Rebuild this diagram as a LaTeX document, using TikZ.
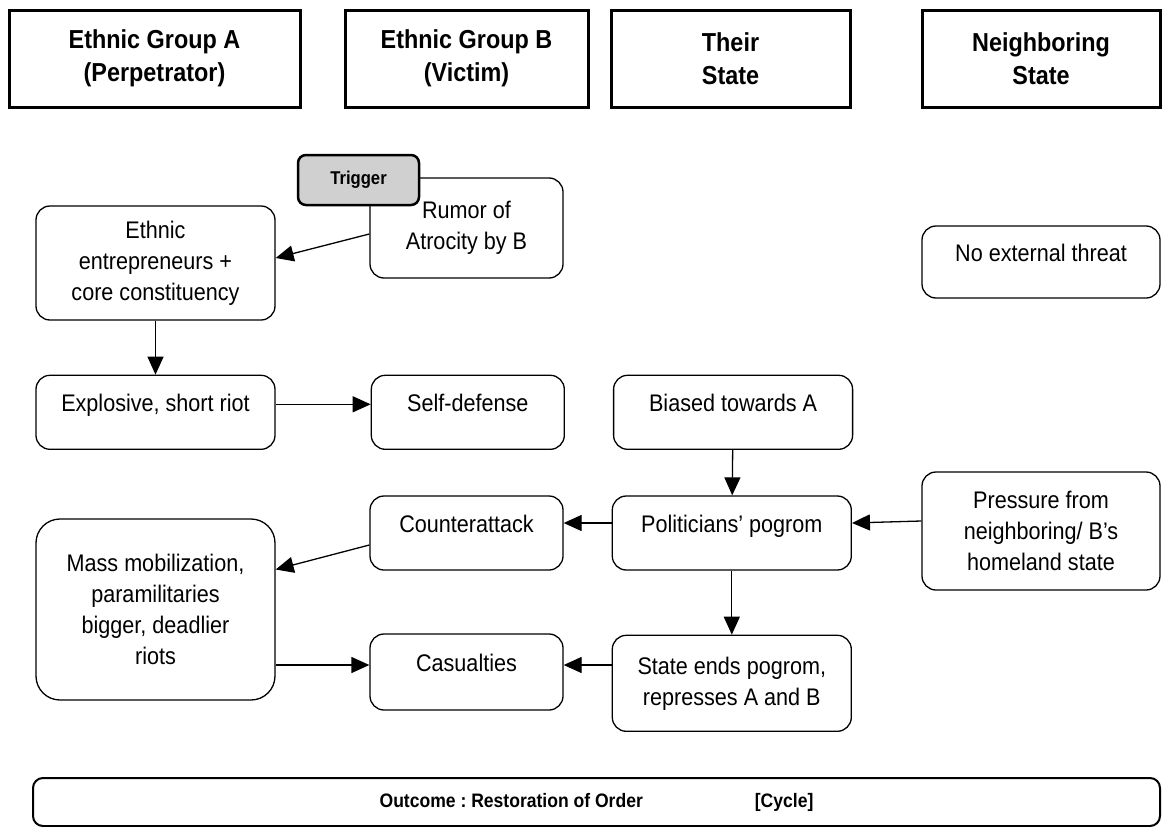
\documentclass[tikz,border=0pt]{standalone}
\usepackage{fontspec}
\setmainfont{Liberation Sans}[FakeStretch=0.9]
\usetikzlibrary{arrows.meta,positioning}
\definecolor{trigGray}{HTML}{D0D0D0}

\begin{document}
\begin{tikzpicture}[
x=1pt, y=-1pt,
every node/.style={font=\fontsize{24}{31}\selectfont},
head/.style={draw, line width=3pt, align=center, inner sep=0pt, minimum height=97pt, font=\fontsize{26}{33}\selectfont\bfseries},
box/.style={draw, fill=white, rounded corners=14pt, line width=1.3pt, align=center, inner sep=0pt, minimum width=239pt, minimum height=74pt},
oneline/.style={text height=17pt, text depth=19pt},
trig/.style={draw, fill=trigGray, rounded corners=8pt, line width=2.5pt, inner sep=0pt, minimum width=121pt, minimum height=50pt, font=\fontsize{18.5}{22}\selectfont\bfseries},
outbox/.style={draw, rounded corners=10pt, line width=2pt, inner sep=0pt, minimum width=1127pt, minimum height=48pt, font=\fontsize{19.5}{22}\selectfont\bfseries\frenchspacing},
arr/.style={-{Triangle[length=18pt,width=16pt]}, line width=1.3pt}
]
\fill[white] (0,0) rectangle (1162,827);
\useasboundingbox (0,0) rectangle (1162,827);

% Column headers
\node[head, minimum width=291pt] (H1) at (154.5,58.5) {Ethnic Group A\\(Perpetrator)};
\node[head, minimum width=243pt] (H2) at (466.5,58.5) {Ethnic Group B\\(Victim)};
\node[head, minimum width=239pt] (H3) at (730.5,58.5) {Their\\State};
\node[head, minimum width=238pt] (H4) at (1041,58.5) {Neighboring\\State};

% Trigger and first reaction
\node[box, minimum width=193pt, minimum height=100pt] (Rum) at (466.5,228) {Rumor of\\Atrocity by B};
\node[trig] (Trig) at (358.5,180) {Trigger};
\node[box, minimum height=114pt] (Ent) at (155.5,263) {Ethnic\\entrepreneurs +\\core constituency};
\node[box, oneline, minimum width=238pt, minimum height=72pt] (NoT) at (1041,262) {No external threat};
\draw[arr] ([yshift=-6pt]Rum.west) -- ([yshift=5pt]Ent.east);

% Riot row
\node[box, oneline, below=54pt of Ent] (Exp) {Explosive, short riot};
\node[box, oneline, minimum width=193pt, right=95pt of Exp] (SD) {Self-defense};
\node[box, oneline, right=48pt of SD] (Bias) {Biased towards A};
\draw[arr] (Ent) -- (Exp);
\draw[arr] ([yshift=8pt]Exp.east) -- ([yshift=8pt]SD.west);

% Pogrom row
\node[box, oneline, minimum width=193pt] (CA) at (466.5,533) {Counterattack};
\node[box, oneline, right=48pt of CA] (Pol) {Politicians' pogrom};
\node[box, minimum width=238pt, minimum height=118pt] (Pres) at (1041,531) {Pressure from\\neighboring/ B's\\homeland state};
\node[box, minimum height=181pt, rounded corners=24pt] (Mass) at (155.5,609.5) {Mass mobilization,\\paramilitaries\\bigger, deadlier\\riots};
\draw[arr] (Bias) -- (Pol);
\draw[arr] ([yshift=10pt]Pres.west) -- ([yshift=10pt]Pol.east);
\draw[arr] ([yshift=10pt]Pol.west) -- ([yshift=10pt]CA.east);
\draw[arr] ([yshift=-12pt]CA.west) -- ([yshift=40pt]Mass.east);

% Outcome of the cycle
\node[box, minimum height=96pt, below=64pt of Pol] (SE) {State ends pogrom,\\represses A and B};
\node[box, oneline, minimum width=193pt, minimum height=76pt] (Cas) at (466.5,672) {Casualties};
\draw[arr] (Pol) -- (SE);
\draw[arr] ([yshift=7pt]SE.west |- Cas.east) -- ([yshift=7pt]Cas.east);
\draw[arr] ([yshift=7pt]Mass.east |- Cas.west) -- ([yshift=7pt]Cas.west);

\node[outbox] (Out) at (596.5,802) {Outcome : Restoration of Order\hspace{112pt}[Cycle]};

\end{tikzpicture}
\end{document}
